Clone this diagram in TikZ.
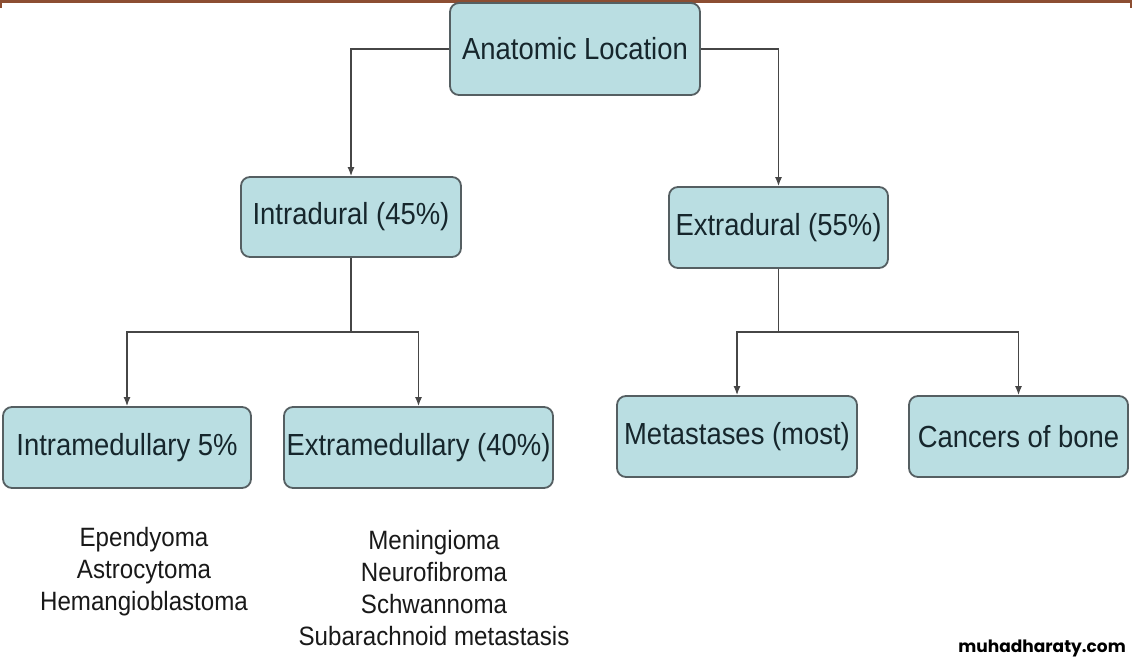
\documentclass[tikz,border=0pt]{standalone}
\usepackage{fontspec}
\setmainfont{Liberation Sans}
\newfontfamily\boxfont[FakeStretch=0.9]{Liberation Sans}
\newfontfamily\listfont[FakeStretch=0.91]{Liberation Sans}
\newfontfamily\wmfont{Poppins}
\usetikzlibrary{arrows.meta}
\definecolor{boxfill}{RGB}{186,222,226}
\definecolor{boxline}{RGB}{85,95,98}
\definecolor{boxtext}{RGB}{22,38,44}
\definecolor{connc}{RGB}{70,70,70}
\definecolor{topline}{RGB}{140,78,50}
\tikzset{
  box/.style={draw=boxline, line width=1.8pt, fill=boxfill, rounded corners=9pt,
    inner sep=0pt, text=boxtext, font=\boxfont\fontsize{30.5}{34}\selectfont},
  conn/.style={draw=connc, line width=1.4pt, -{Latex[length=9pt,width=7pt]}},
  plain/.style={draw=connc, line width=1.4pt},
  listtxt/.style={align=center, inner sep=0pt, text=black!90, font=\listfont\fontsize{26.5}{32}\selectfont}
}
\begin{document}
\begin{tikzpicture}[x=1pt,y=-1pt]
\useasboundingbox (0,0) rectangle (1132,662);
\fill[white] (0,0) rectangle (1132,662);
\fill[topline] (0,0) rectangle (1132,2.5);
\fill[topline] (0,0) rectangle (2,8);
\fill[topline] (1130,0) rectangle (1132,8);

\node[box, minimum width=250pt, minimum height=92pt] (anat) at (575,49) {Anatomic Location};
\node[box, minimum width=220pt, minimum height=80pt] (intra) at (351,217) {Intradural (45\%)};
\node[box, minimum width=219pt, minimum height=81pt] (extra) at (778.5,227.5) {Extradural (55\%)};
\node[box, minimum width=248pt, minimum height=81pt] (imed) at (127,447.5) {Intramedullary 5\%};
\node[box, minimum width=269pt, minimum height=81pt] (emed) at (418.5,447.5) {Extramedullary (40\%)};
\node[box, minimum width=240pt, minimum height=81pt] (meta) at (737,436.5) {Metastases (most)};
\node[box, minimum width=219pt, minimum height=81pt] (bone) at (1018.5,436.5) {Cancers of bone};

\draw[conn] (anat.west) -| (intra.north);
\draw[conn] (anat.east) -| (extra.north);

\path (intra.south) ++(0,74) coordinate (j1);
\path (extra.south) ++(0,63) coordinate (j2);
\draw[plain] (intra.south) -- (j1);
\draw[conn] (j1) -| (imed.north);
\draw[conn] (j1) -| (emed.north);
\draw[plain] (extra.south) -- (j2);
\draw[conn] (j2) -| (meta.north);
\draw[conn] (j2) -| (bone.north);

\node[listtxt] (list1) at (144,572) {Ependyoma\\Astrocytoma\\Hemangioblastoma};
\node[listtxt] (list2) at (434,588) {Meningioma\\Neurofibroma\\Schwannoma\\Subarachnoid metastasis};

\node[anchor=east, inner sep=0pt, font=\wmfont\bfseries\fontsize{17}{20}\selectfont] (wm) at (1126,648) {muhadharaty.com};
\end{tikzpicture}
\end{document}
